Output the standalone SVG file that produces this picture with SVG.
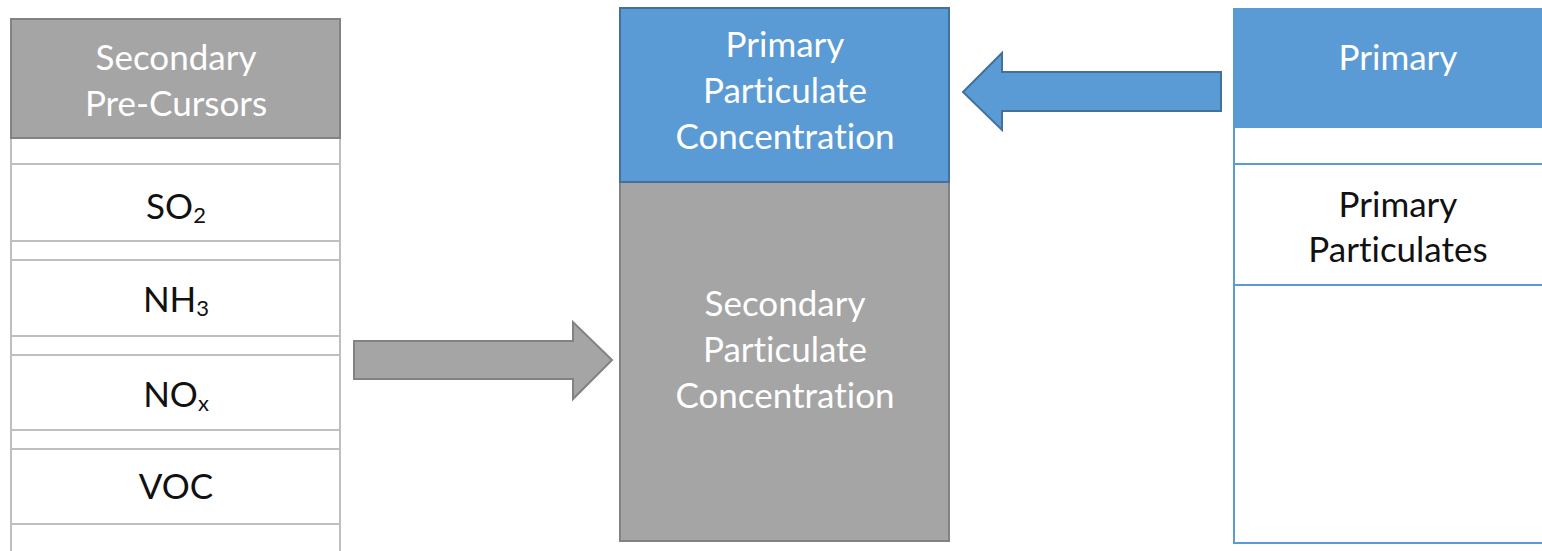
<svg xmlns="http://www.w3.org/2000/svg" width="1542" height="551" viewBox="0 0 1542 551">
<style>
.t{font-family:Lato,"Open Sans","Liberation Sans",sans-serif;font-size:35px;text-anchor:middle;font-variant-ligatures:none;font-feature-settings:"liga" 0}
.w{fill:#ffffff}
.k{fill:#111111}
.gray{fill:#a5a5a5;stroke:#828282;stroke-width:2}
.blue{fill:#5b9bd5;stroke:#41719c;stroke-width:2}
.row{fill:#ffffff;stroke:#bfbfbf;stroke-width:2}
.brow{fill:#ffffff;stroke:#5b9bd5;stroke-width:2}
</style>
<rect width="1542" height="551" fill="#ffffff"/>
<g id="secondary-precursors">
<rect class="row" x="11" y="138" width="329" height="26"/>
<rect class="row" x="11" y="164" width="329" height="77"/>
<rect class="row" x="11" y="241" width="329" height="19"/>
<rect class="row" x="11" y="260" width="329" height="76"/>
<rect class="row" x="11" y="336" width="329" height="19"/>
<rect class="row" x="11" y="355" width="329" height="75"/>
<rect class="row" x="11" y="430" width="329" height="19"/>
<rect class="row" x="11" y="449" width="329" height="75"/>
<rect class="row" x="11" y="524" width="329" height="40"/>
<rect class="gray" x="11" y="19" width="329" height="119"/>
<text class="t w" x="176" y="70">Secondary</text>
<text class="t w" x="176" y="116">Pre-Cursors</text>
<text class="t k" x="176" y="219">SO<tspan font-size="22" dy="4">2</tspan></text>
<text class="t k" x="176" y="312">NH<tspan font-size="22" dy="4">3</tspan></text>
<text class="t k" x="176" y="407">NO<tspan font-size="22" dy="4">x</tspan></text>
<text class="t k" x="176" y="499">VOC</text>
</g>
<g id="concentration">
<rect class="gray" x="620" y="182" width="329" height="359"/>
<rect class="blue" x="620" y="8" width="329" height="174"/>
<text class="t w" x="785" y="57">Primary</text>
<text class="t w" x="785" y="103">Particulate</text>
<text class="t w" x="785" y="149">Concentration</text>
<text class="t w" x="785" y="316">Secondary</text>
<text class="t w" x="785" y="362">Particulate</text>
<text class="t w" x="785" y="408">Concentration</text>
</g>
<g id="primary">
<rect class="brow" x="1234" y="9" width="340" height="534"/>
<line x1="1234" y1="164" x2="1542" y2="164" stroke="#5b9bd5" stroke-width="2"/>
<line x1="1234" y1="285" x2="1542" y2="285" stroke="#5b9bd5" stroke-width="2"/>
<rect x="1234" y="9" width="340" height="119" fill="#5b9bd5"/>
<text class="t w" x="1398" y="70">Primary</text>
<text class="t k" x="1398" y="217">Primary</text>
<text class="t k" x="1398" y="262">Particulates</text>
</g>
<g id="connectors">
<polygon class="gray" points="354,341 573,341 573,322 612,360 573,399 573,379 354,379"/>
<polygon class="blue" points="1221,72 1002,72 1002,53 963,92 1002,130 1002,111 1221,111"/>
</g>
</svg>
